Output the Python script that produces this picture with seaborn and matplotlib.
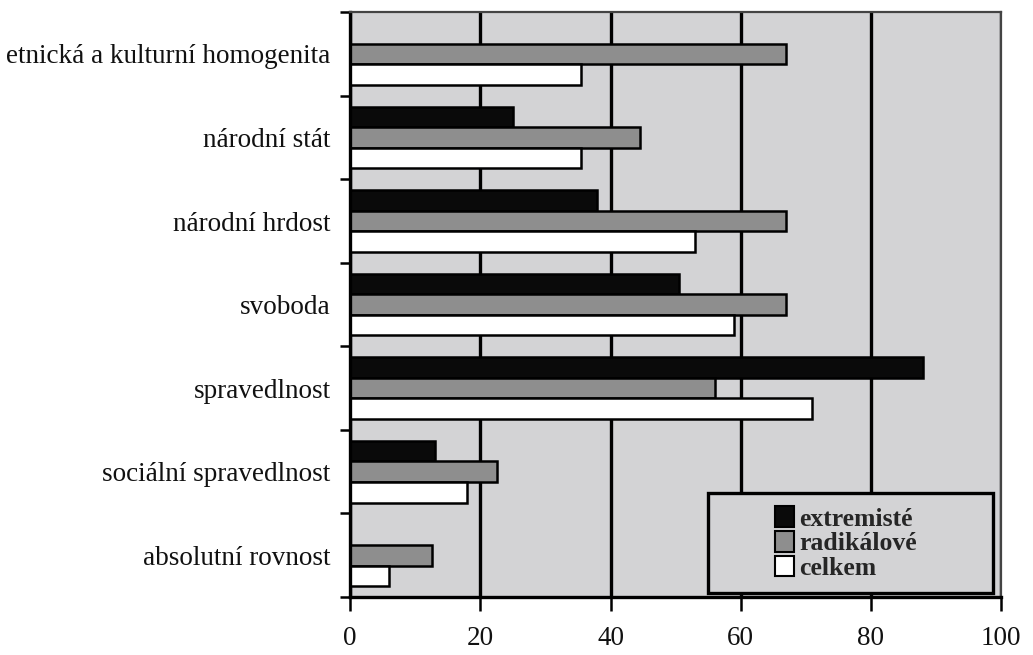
import seaborn as sns
import matplotlib.pyplot as plt
import pandas as pd
from matplotlib.patches import Rectangle, Patch

# hodnoty (%)
kategorie = ["etnická a kulturní homogenita", "národní stát", "národní hrdost",
             "svoboda", "spravedlnost", "sociální spravedlnost", "absolutní rovnost"]
extremiste = [0, 25, 38, 50.5, 88, 13, 0]
radikalove = [67, 44.5, 67, 67, 56, 22.5, 12.5]
celkem = [35.5, 35.5, 53, 59, 71, 18, 6]
skupiny = ["extremisté", "radikálové", "celkem"]
barvy = ["#0a0a0a", "#8e8e8e", "#ffffff"]

df = pd.DataFrame({
    "kategorie": kategorie * 3,
    "hodnota": extremiste + radikalove + celkem,
    "skupina": [s for s in skupiny for _ in kategorie],
})

sns.set_style("white")
plt.rcParams["font.family"] = ["Liberation Serif", "DejaVu Serif"]

fig = plt.figure(figsize=(10.33, 6.55), dpi=100)
ax = fig.add_axes([0.339, 0.0885, 0.630, 0.893])
ax.set_facecolor("#d3d3d5")

sns.barplot(data=df, y="kategorie", x="hodnota", hue="skupina", order=kategorie,
            hue_order=skupiny, palette=barvy, orient="h", width=0.74,
            edgecolor="black", linewidth=1.8, ax=ax, legend=False)

ax.set_xlim(0, 100)
ax.set_ylim(len(kategorie) - 0.5, -0.5)
ax.set_xticks([0, 20, 40, 60, 80, 100])
ax.set_axisbelow(True)
ax.grid(axis="x", color="black", linewidth=2.4)
ax.grid(axis="y", visible=False)
ax.set_xlabel("")
ax.set_ylabel("")

# čárky na hranicích kategorií
ax.set_yticks([i + 0.5 for i in range(-1, len(kategorie))], minor=True)
ax.tick_params(axis="y", which="major", length=0, labelsize=19.5, pad=14,
               labelcolor="#111111")
ax.tick_params(axis="y", which="minor", length=7, width=1.8, color="black", left=True)
ax.tick_params(axis="x", length=10, width=1.8, color="black", labelsize=19.5, pad=11,
               bottom=True, labelcolor="#111111")

for s in ["left", "bottom"]:
    ax.spines[s].set_color("black")
    ax.spines[s].set_linewidth(2.4)
for s in ["top", "right"]:
    ax.spines[s].set_color("#444444")
    ax.spines[s].set_linewidth(1.6)

# legenda v rámečku vpravo dole
ax.add_patch(Rectangle((0.55, 0.007), 0.438, 0.171, transform=ax.transAxes,
                       facecolor="#d3d3d5", edgecolor="black", linewidth=2.4, zorder=5))
handles = [Patch(facecolor=c, edgecolor="black", linewidth=1.5) for c in barvy]
leg = ax.legend(handles, skupiny, loc="center", bbox_to_anchor=(0.762, 0.092),
                frameon=False, handlelength=0.75, handleheight=0.85,
                handletextpad=0.2, labelspacing=0.02, borderpad=0,
                prop={"size": 18.5, "weight": "bold"})
leg.set_zorder(6)

plt.savefig("out.png", dpi=100)
